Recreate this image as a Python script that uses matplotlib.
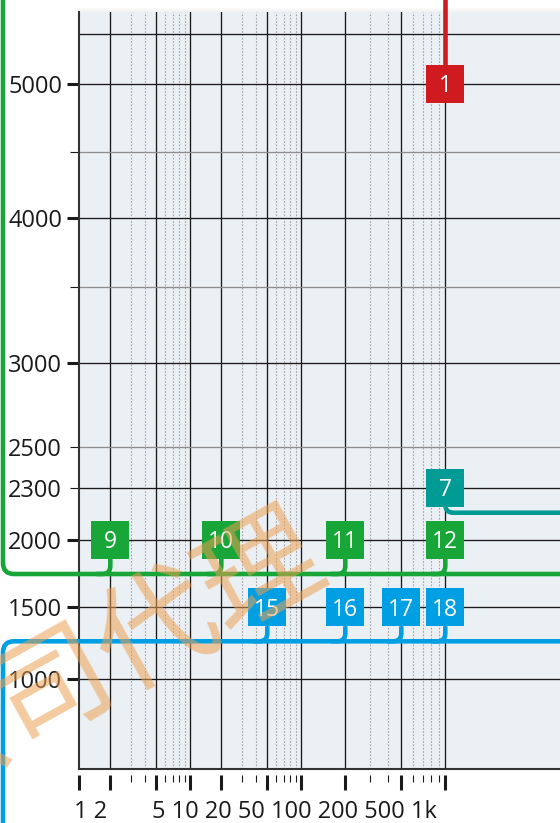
import numpy as np
import matplotlib
matplotlib.use("Agg")
import matplotlib.pyplot as plt
from matplotlib.path import Path
from matplotlib.patches import PathPatch, Rectangle
from matplotlib.transforms import IdentityTransform

plt.rcParams["font.family"] = ["Open Sans", "DejaVu Sans"]

# axis ticks
x_major = [1, 2, 5, 10, 20, 50, 100, 200, 500, 1000]
x_labels = ["1", "2", "5", "10", "20", "50", "100", "200", "500", "1k"]
x_minor = [3, 4, 6, 7, 8, 9, 30, 40, 60, 70, 80, 90, 300, 400, 600, 700, 800, 900]
y_major = [1000, 1500, 2000, 3000, 4000, 5000]
y_minor = [2300, 2500, 3500, 4500]
y_minor_labels = ["2300", "2500", "", ""]
y_grid_dark = [1000, 1500, 2000, 2300, 3000, 4000, 5000, 5500]
y_grid_light = [2500, 3500, 4500]

# numbered markers per line
red_ids, red_x, red_y = [1], [1000], [5000]
teal_ids, teal_x, teal_y = [7], [1000], [2300]
green_ids = [9, 10, 11, 12]
green_x = [2, 20, 200, 1000]
green_y = [2000, 2000, 2000, 2000]
blue_ids = [15, 16, 17, 18]
blue_x = [50, 200, 500, 1000]
blue_y = [1500, 1500, 1500, 1500]

RED, TEAL, GREEN, BLUE = "#cf1b20", "#009b94", "#17a637", "#009fe3"
INK = "#1a1a1a"

# piecewise axis scales (decades are not all equally wide)
X_KNOTS = np.log10([1, 2, 5, 10, 20, 50, 100, 200, 500, 1000, 10000])
X_POS = [0, 31.3, 77.3, 111.3, 142.3, 188.3, 222.3, 266.3, 322.3, 366.3, 510.3]
Y_KNOTS = [500, 1000, 1500, 2000, 2300, 2500, 3000, 3500, 4000, 4500, 5000, 5500, 5800]
Y_POS = [0, 90, 161.7, 229, 281.3, 322.3, 405.7, 482, 550.7, 617.3, 684.7, 734.7, 757]


def fx(x):
    return np.interp(np.log10(np.clip(x, 1e-6, None)), X_KNOTS, X_POS)


def fx_inv(u):
    return 10 ** np.interp(u, X_POS, X_KNOTS)


def fy(y):
    return np.interp(y, Y_KNOTS, Y_POS)


def fy_inv(u):
    return np.interp(u, Y_POS, Y_KNOTS)


W, H = 560, 823
fig = plt.figure(figsize=(W / 100, H / 100), dpi=100)
ax = fig.add_axes([79 / W, 54 / H, 481 / W, 757 / H])
ax.set_facecolor("#ebf0f5")
ax.set_xscale("function", functions=(fx, fx_inv))
ax.set_yscale("function", functions=(fy, fy_inv))
ax.set_xlim(1, fx_inv(481))
ax.set_ylim(500, 5800)

for v in x_major[1:]:
    ax.axvline(v, color=INK, lw=0.95, zorder=1)
for v in x_minor:
    ax.axvline(v, color="#a3a3a3", lw=0.8, ls=(0, (1.5, 1.5)), zorder=1)
for v in y_grid_dark:
    ax.axhline(v, color=INK, lw=0.95, zorder=1)
for v in y_grid_light:
    ax.axhline(v, color="#8e8e8e", lw=0.95, zorder=1)

ax.set_xticks(x_major, labels=[""] * len(x_major))
ax.set_xticks(x_minor, labels=[""] * len(x_minor), minor=True)
ax.set_yticks(y_major, labels=[str(v) for v in y_major])
ax.set_yticks(y_minor, labels=y_minor_labels, minor=True)
ax.tick_params(axis="x", which="major", length=10.8, width=2.2, color=INK)
ax.tick_params(axis="x", which="minor", length=5, width=0.8, color=INK)
ax.tick_params(axis="y", which="major", length=8.6, width=2.2, color=INK,
               pad=3.6, labelsize=17, labelcolor=INK)
ax.tick_params(axis="y", which="minor", length=6.5, width=0.8, color=INK,
               pad=5.8, labelsize=17, labelcolor=INK)

for side in ("top", "right"):
    ax.spines[side].set_visible(False)
ax.spines["left"].set_color("#333333")
ax.spines["left"].set_linewidth(1.5)
ax.spines["bottom"].set_position(("outward", 4))
ax.spines["bottom"].set_visible(False)
ax.axhline(500, color="#333333", lw=1.5, clip_on=False, zorder=2)

# x tick labels run together as two text runs
x0 = ax.transData.transform((x_major[0], 500))[0]
x5 = ax.transData.transform((x_major[2], 500))[0]
fig.text(x0 - 5, 5.3, " ".join(x_labels[:2]), transform=IdentityTransform(),
         ha="left", va="baseline", fontsize=17, color=INK)
fig.text(x5 - 4, 5.3, " ".join(x_labels[2:]), transform=IdentityTransform(),
         ha="left", va="baseline", fontsize=17, color=INK)

LW = 3.3
HALF = 19


def rounded_path(pts, r):
    pts = np.asarray(pts, float)
    verts, codes = [pts[0]], [Path.MOVETO]
    for a, p, b in zip(pts[:-2], pts[1:-1], pts[2:]):
        u1 = (a - p) / np.hypot(*(a - p))
        u2 = (b - p) / np.hypot(*(b - p))
        verts += [p + u1 * r, p, p + u2 * r]
        codes += [Path.LINETO, Path.CURVE3, Path.CURVE3]
    verts.append(pts[-1])
    codes.append(Path.LINETO)
    return Path(verts, codes)


def route(pts, color, r=9):
    fig.add_artist(PathPatch(rounded_path(pts, r), fill=False, ec=color, lw=LW,
                             capstyle="butt", joinstyle="round",
                             transform=IdentityTransform(), zorder=3))


def box(cx, cy, n, color):
    fig.add_artist(Rectangle((cx - HALF, cy - HALF), 2 * HALF, 2 * HALF, fc=color,
                             ec="none", transform=IdentityTransform(), zorder=4))
    fig.text(cx, cy - 8.2, str(n), transform=IdentityTransform(), ha="center",
             va="baseline", color="white", fontsize=16.5, zorder=5)


def centres(xs, ys):
    return [ax.transData.transform((x, y)) for x, y in zip(xs, ys)]


# red: straight drop from above
for (cx, cy), n in zip(centres(red_x, red_y), red_ids):
    route([(cx, H + 10), (cx, cy + HALF)], RED)
    box(cx, cy, n, RED)

# teal: stem turning right
for (cx, cy), n in zip(centres(teal_x, teal_y), teal_ids):
    level = cy - 25
    route([(cx, cy - HALF), (cx, level), (W + 10, level)], TEAL, r=8)
    box(cx, cy, n, TEAL)

# green: comes down the left edge, runs right
pts = centres(green_x, green_y)
level = pts[0][1] - 34
route([(3, H + 10), (3, level), (W + 10, level)], GREEN, r=11)
for (cx, cy), n in zip(pts, green_ids):
    route([(cx, cy - HALF), (cx, level), (cx - 14, level)], GREEN, r=8)
    box(cx, cy, n, GREEN)

# blue: runs left, then down the left edge
pts = centres(blue_x, blue_y)
level = pts[0][1] - 34
route([(W + 10, level), (3, level), (3, -10)], BLUE, r=11)
for (cx, cy), n in zip(pts, blue_ids):
    route([(cx, cy - HALF), (cx, level), (cx - 14, level)], BLUE, r=8)
    box(cx, cy, n, BLUE)

# soft shadow above the plot area
for i, a in enumerate([0.03, 0.05, 0.07, 0.09]):
    fig.add_artist(plt.Line2D([79, W], [H - 8 - i, H - 8 - i], color="#888888",
                              alpha=a, lw=0.8, transform=IdentityTransform()))

# watermark
fig.text(106, H - 660, "公司代理", transform=IdentityTransform(), rotation=29,
         rotation_mode="anchor", ha="center", va="center", fontsize=86,
         fontweight="medium", color="#eba052", alpha=0.55,
         family=["Noto Sans CJK SC"], zorder=10)

fig.savefig("out.png", dpi=100)
